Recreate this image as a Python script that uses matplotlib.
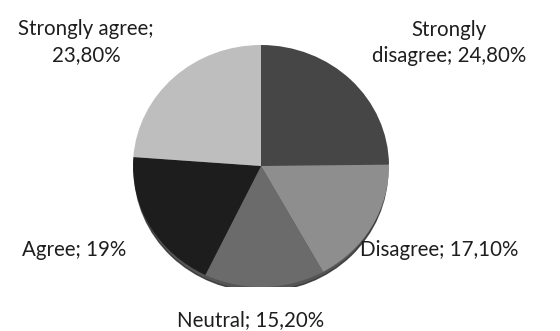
import matplotlib
matplotlib.use('Agg')
import matplotlib.pyplot as plt
from matplotlib.patches import Ellipse

labels = ['Strongly disagree', 'Disagree', 'Neutral', 'Agree', 'Strongly agree']
values = [24.8, 17.1, 15.2, 19.0, 23.8]
value_text = ['24,80%', '17,10%', '15,20%', '19%', '23,80%']
colors = ['#464646', '#8e8e8e', '#6b6b6b', '#1d1d1d', '#bebebe']

W, H = 560, 331
fig = plt.figure(figsize=(W / 100, H / 100), dpi=100)

# pie centre / radii in pixels
cx, cy, rx, ry = 261, 166, 128, 121
ax = fig.add_axes([(cx - rx) / W, 1 - (cy + ry) / H, 2 * rx / W, 2 * ry / H])
ax.add_patch(Ellipse((0, -0.035), 1.98, 2.0, color='#2a2a2a', alpha=0.8, zorder=0))
ax.pie(values, colors=colors, startangle=90, counterclock=False, radius=1,
       wedgeprops=dict(linewidth=0), normalize=True)
ax.set_aspect('auto')
ax.set_xlim(-1, 1)
ax.set_ylim(-1, 1)
ax.axis('off')

# label positions in pixels (centre of text block)
label_pos = {
    'Strongly disagree': (449, 43, 'Strongly\ndisagree; '),
    'Disagree': (439, 250, 'Disagree; '),
    'Neutral': (251, 320, 'Neutral; '),
    'Agree': (74, 250, 'Agree; '),
    'Strongly agree': (86, 42, 'Strongly agree;\n'),
}
for lab, vt in zip(labels, value_text):
    x, y, prefix = label_pos[lab]
    fig.text(x / W, 1 - y / H, prefix + vt, ha='center', va='center',
             fontsize=14.8, family='Lato', color='#1e1e1e', linespacing=1.4)

fig.savefig('out.png', dpi=100, facecolor='white')
